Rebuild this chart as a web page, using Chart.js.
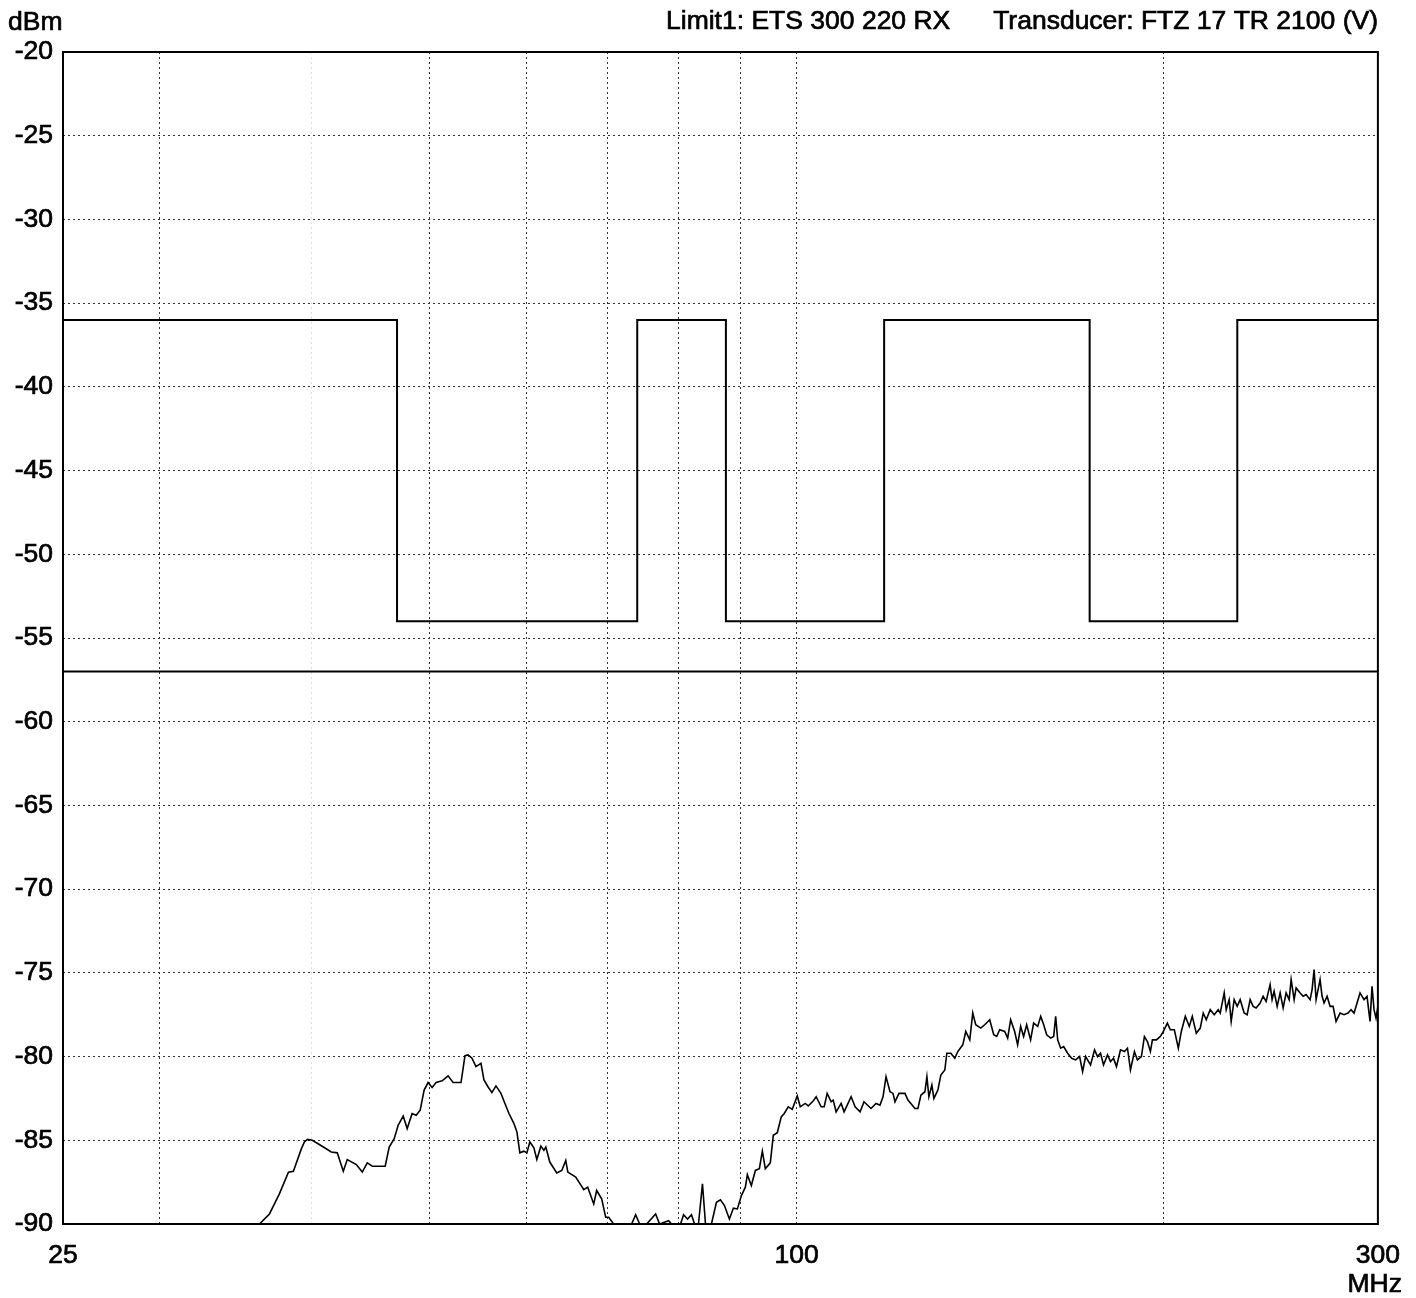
<!DOCTYPE html>
<html>
<head>
<meta charset="utf-8">
<script src="https://cdn.jsdelivr.net/npm/chart.js@4.4.0/dist/chart.umd.min.js"></script>
<style>
  html, body { margin: 0; padding: 0; background: #fff; }
  #wrap { width: 1416px; height: 1298px; }
</style>
</head>
<body>
<div id="wrap"><canvas id="c" width="1416" height="1298"></canvas></div>
<script>
// Measured receiver spurious emission trace (frequency in MHz, level in dBm)
const traceFreq = [
  25, 36.24, 36.93, 37.63, 38.28, 38.64, 39.23, 39.45, 39.68, 40.05, 40.58, 41.51, 41.98, 42.46, 42.78,
  43.52, 44.01, 44.43, 44.85, 45.96, 46.31, 46.75, 47.10, 47.55, 47.91, 48.36, 48.73, 49.10, 49.47, 49.84,
  50.22, 50.60, 51.18, 51.76, 52.25, 53.04, 53.44, 53.75, 54.15, 54.56, 55.08, 55.39, 55.81, 56.23, 56.66,
  57.20, 57.63, 58.07, 58.62, 58.95, 59.28, 59.73, 60.07, 60.41, 60.87, 61.21, 61.68, 62.03, 62.26, 62.73,
  63.56, 64.17, 64.65, 64.90, 65.88, 66.89, 67.39, 68.16, 68.54, 69.19, 69.72, 70.11, 70.78, 73.22, 73.78,
  74.34, 75.33, 76.62, 77.19, 78.52, 78.96, 80.31, 80.77, 81.38, 81.99, 82.46, 83.08, 83.71, 84.19, 85.14,
  85.95, 86.60, 87.26, 88.08, 88.75, 89.42, 90.10, 90.78, 91.12, 91.81, 92.51, 93.21, 93.74, 94.27, 95.16,
  95.70, 96.42, 97.15, 97.70, 98.44, 99.19, 100.13, 100.70, 101.65, 102.23, 103.19, 103.78, 104.76, 105.36, 105.96,
  106.76, 107.16, 107.77, 108.79, 109.40, 110.86, 111.70, 112.75, 113.60, 115.11, 116.20, 117.08, 117.75, 118.42, 119.31,
  119.99, 120.44, 121.35, 122.73, 123.43, 125.07, 125.78, 126.49, 127.45, 127.93, 128.41, 129.14, 129.63, 130.61, 131.35,
  132.34, 132.84, 133.85, 134.86, 135.62, 136.91, 137.68, 138.73, 139.51, 140.30, 141.63, 142.70, 144.06, 145.15, 145.97,
  146.80, 148.19, 149.03, 149.87, 151.01, 151.86, 152.73, 153.59, 154.47, 155.63, 156.52, 157.74, 158.63, 159.53, 160.43,
  161.65, 162.56, 163.18, 163.80, 164.72, 165.66, 166.91, 168.18, 169.45, 170.73, 171.70, 172.67, 174.30, 175.62, 176.62,
  177.62, 178.62, 179.97, 181.00, 182.02, 183.05, 184.44, 185.83, 186.89, 187.95, 189.37, 190.44, 191.88, 192.97, 194.07,
  195.17, 195.91, 197.39, 198.88, 200.01, 201.52, 202.67, 204.20, 205.75, 206.91, 208.48, 210.06, 211.25, 212.84, 214.45,
  215.67, 216.89, 218.53, 220.19, 221.85, 222.69, 224.38, 225.23, 226.50, 227.36, 228.65, 229.95, 231.25, 233.00, 234.32,
  235.65, 236.99, 238.33, 240.14, 241.50, 242.87, 244.71, 245.63, 246.56, 248.00, 249.40, 250.82, 252.24, 253.68, 254.64,
  256.08, 257.05, 259.00, 260.48, 261.94, 263.92, 264.92, 265.92, 266.93, 268.95, 269.97, 270.99, 272.53, 274.08, 275.64,
  277.20, 279.30, 281.42, 283.55, 285.16, 286.78, 288.41, 290.05, 292.25, 293.91, 295.58, 296.70, 297.82, 298.94, 300
];
const traceLevel = [
  -90, -90, -89.4, -88.2, -86.9, -86.85, -85.5, -85.1, -84.95, -85.0, -85.25, -85.7, -85.75, -86.85, -86.15,
  -86.45, -86.9, -86.35, -86.55, -86.55, -85.4, -84.9, -84.1, -83.55, -84.3, -83.4, -83.5, -83.2, -82.0, -81.55,
  -81.85, -81.55, -81.45, -81.15, -81.55, -81.55, -79.95, -79.9, -80.1, -80.6, -80.4, -81.4, -81.8, -82.15, -81.75,
  -82.2, -82.8, -83.4, -84.0, -84.5, -85.75, -85.65, -85.75, -85.1, -85.45, -86.15, -85.35, -85.6, -85.4, -86.3,
  -86.95, -86.8, -86.2, -86.9, -87.2, -87.95, -87.8, -88.8, -88.0, -88.5, -89.6, -89.6, -90, -90, -89.45,
  -90, -90, -89.4, -90, -89.8, -90, -90, -89.45, -89.7, -89.45, -90, -90, -87.6, -90, -90,
  -88.7, -88.55, -88.9, -89.7, -89.05, -89.1, -88.3, -87.8, -87.05, -87.7, -86.8, -86.7, -85.65, -86.7, -86.35,
  -84.7, -84.55, -83.6, -83.4, -83.0, -83.15, -82.35, -83.0, -82.8, -82.95, -82.65, -82.4, -83.0, -83.0, -82.2,
  -82.7, -82.6, -83.3, -82.8, -83.3, -82.4, -83.0, -83.3, -82.7, -83.1, -82.8, -82.9, -82.4, -81.2, -82.1,
  -82.2, -82.7, -82.2, -82.2, -82.6, -83.1, -83.1, -82.3, -82.1, -81.2, -82.4, -81.7, -82.5, -82.0, -81.1,
  -80.8, -79.8, -79.8, -80.1, -79.7, -79.3, -78.5, -79.0, -77.4, -78.1, -78.3, -78.1, -77.8, -78.7, -78.8,
  -78.4, -78.5, -78.9, -77.8, -78.5, -79.3, -78.2, -78.8, -78.1, -79.0, -78.0, -78.2, -77.6, -78.1, -78.7,
  -78.9, -78.8, -77.6, -79.0, -79.5, -79.4, -79.8, -80.1, -80.2, -80.0, -80.9, -80.0, -80.5, -79.6, -80.0,
  -79.8, -80.5, -79.9, -80.3, -80.1, -80.6, -79.6, -79.7, -79.5, -80.8, -79.7, -80.2, -80.0, -78.8, -79.1,
  -79.7, -79.0, -79.0, -78.8, -78.5, -78.0, -78.4, -78.4, -79.5, -78.5, -77.6, -78.2, -77.6, -78.6, -78.3,
  -77.4, -77.8, -77.2, -77.5, -77.2, -77.4, -76.2, -77.2, -76.6, -77.9, -76.6, -77.0, -76.6, -77.4, -77.5,
  -76.6, -77.0, -77.1, -76.8, -76.4, -76.7, -75.7, -76.6, -76.1, -77.0, -76.2, -77.1, -76.2, -76.6, -75.4,
  -76.6, -75.9, -76.2, -76.4, -76.3, -76.6, -76.0, -74.8, -76.6, -75.4, -76.4, -76.8, -76.4, -77.0, -77.0,
  -77.9, -77.4, -77.5, -77.4, -77.2, -77.4, -76.8, -76.2, -76.6, -76.4, -77.9, -75.8, -77.2, -77.7, -77.0
];

// Limit1: ETS 300 220 stepped limit (held from each frequency to the next)
const limitFreq = [25, 47, 74, 87.5, 118, 174, 230, 300];
const limitLevel = [-36, -54, -36, -54, -36, -54, -36, -36];

// Flat receiver limit line
const rxLimitFreq = [25, 300];
const rxLimitLevel = [-57, -57];

// Axis ticks
const freqGridTicks = [25, 30, 40, 50, 60, 70, 80, 90, 100, 200, 300];
const freqTickLabels = [25, 100, 300];
const faintFreqTicks = [40];
const levelMin = -90;
const levelMax = -20;
const levelStep = 5;

const FONT = "'Liberation Sans', Arial, Helvetica, sans-serif";
const FONT_SIZE = 26.5;
const TEXT_STROKE = 0.7;

const toPoints = (xs, ys) => xs.map((x, i) => ({ x: x, y: ys[i] }));

Chart.defaults.color = '#000';
Chart.defaults.font.family = FONT;

const decorPlugin = {
  id: 'decor',
  afterDatasetsDraw(chart) {
    const { ctx, chartArea: a } = chart;
    ctx.save();
    ctx.strokeStyle = '#000';
    ctx.lineWidth = 2;
    ctx.strokeRect(a.left, a.top, a.right - a.left, a.bottom - a.top);
    ctx.restore();
  },
  afterDraw(chart) {
    const { ctx } = chart;
    const put = (text, x, y) => {
      ctx.fillText(text, x, y);
      ctx.strokeText(text, x, y);
    };
    ctx.save();
    ctx.fillStyle = '#000';
    ctx.strokeStyle = '#000';
    ctx.lineWidth = TEXT_STROKE;
    ctx.font = FONT_SIZE + 'px ' + FONT;
    ctx.textBaseline = 'alphabetic';
    ctx.textAlign = 'left';
    put('dBm', 8, 30);
    put('Limit1: ETS 300 220 RX', 666, 29);
    ctx.textAlign = 'right';
    put('Transducer: FTZ 17 TR 2100 (V)', 1378, 29);
    put('MHz', 1402, 1292);
    ctx.restore();
  }
};

new Chart(document.getElementById('c'), {
  type: 'line',
  data: {
    datasets: [
      {
        data: toPoints(traceFreq, traceLevel),
        borderColor: '#000',
        borderWidth: 1.6,
        pointRadius: 0,
        tension: 0,
        fill: false
      },
      {
        data: toPoints(limitFreq, limitLevel),
        borderColor: '#000',
        borderWidth: 2,
        pointRadius: 0,
        stepped: 'before',
        fill: false
      },
      {
        data: toPoints(rxLimitFreq, rxLimitLevel),
        borderColor: '#000',
        borderWidth: 2,
        pointRadius: 0,
        fill: false
      }
    ]
  },
  options: {
    responsive: false,
    animation: false,
    devicePixelRatio: 1,
    layout: { padding: { top: 52, right: 35, bottom: 0, left: 0 } },
    plugins: { legend: { display: false }, tooltip: { enabled: false }, title: { display: false } },
    scales: {
      x: {
        type: 'logarithmic',
        min: 25,
        max: 300,
        afterBuildTicks(scale) {
          scale.ticks = freqGridTicks.map(v => ({ value: v }));
        },
        afterFit(scale) { scale.height = 74; },
        ticks: {
          autoSkip: false,
          maxRotation: 0,
          padding: 16,
          font: { size: FONT_SIZE },
          textStrokeColor: '#000',
          textStrokeWidth: TEXT_STROKE,
          callback: (v) => (freqTickLabels.includes(v) ? String(v) : '')
        },
        grid: {
          drawTicks: false,
          color: (c) => (c.tick && faintFreqTicks.includes(c.tick.value) ? '#dddddd' : '#333333'),
          lineWidth: 1
        },
        border: { display: false, dash: [2, 3] }
      },
      y: {
        type: 'linear',
        min: levelMin,
        max: levelMax,
        afterBuildTicks(scale) {
          const t = [];
          for (let v = levelMin; v <= levelMax; v += levelStep) t.push({ value: v });
          scale.ticks = t;
        },
        afterFit(scale) { scale.width = 63; },
        ticks: {
          padding: 10,
          font: { size: FONT_SIZE },
          textStrokeColor: '#000',
          textStrokeWidth: TEXT_STROKE,
          callback: (v) => String(v)
        },
        grid: { drawTicks: false, color: '#333333', lineWidth: 1 },
        border: { display: false, dash: [2, 3] }
      }
    }
  },
  plugins: [decorPlugin]
});
</script>
</body>
</html>
